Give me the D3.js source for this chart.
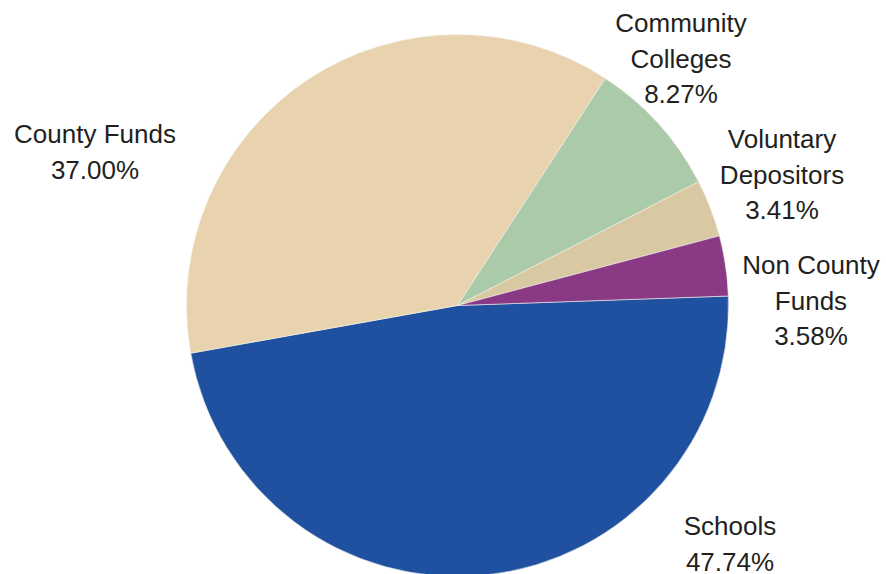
<!DOCTYPE html>
<html>
<head>
<meta charset="utf-8">
<script src="https://cdn.jsdelivr.net/npm/d3@7"></script>
<style>
  html, body { margin: 0; padding: 0; background: #fff; }
  svg { display: block; }
  .lbl { font-family: "Liberation Sans", Arial, sans-serif; font-size: 26px; fill: #231f20; }
</style>
</head>
<body>
<svg id="chart" width="886" height="574"></svg>
<script>
// Slice data, in drawing order (clockwise from the first slice)
const categories = ["Schools", "County Funds", "Community Colleges", "Voluntary Depositors", "Non County Funds"];
const shares = [47.74, 37.00, 8.27, 3.41, 3.58];
const labelLines = [
  ["Schools", "47.74%"],
  ["County Funds", "37.00%"],
  ["Community", "Colleges", "8.27%"],
  ["Voluntary", "Depositors", "3.41%"],
  ["Non County", "Funds", "3.58%"]
];
const colors = ["#2050a0", "#e8d3ae", "#aacaaa", "#d8c9a3", "#8a3a84"];

// Label anchors (Excel "best fit" placement), centre x / first baseline y
const labelAt = [
  [730, 535],
  [95, 143],
  [681, 32],
  [782, 148],
  [811, 274]
];

const W = 886, H = 574;
const cx = 457.5, cy = 305.5, R = 271;
const startDeg = 88;

const svg = d3.select("#chart");
const root = svg.append("g").attr("transform", `translate(${cx},${cy})`);

const pie = d3.pie().sort(null).value(d => d)
  .startAngle(startDeg * Math.PI / 180)
  .endAngle(startDeg * Math.PI / 180 + 2 * Math.PI);
const arc = d3.arc().innerRadius(0).outerRadius(R);

root.selectAll("path.slice").data(pie(shares)).enter().append("path")
  .attr("class", "slice")
  .attr("d", arc)
  .attr("fill", (d, i) => colors[i])
  .attr("stroke", "#f4f1ea").attr("stroke-width", 0.6);

// Labels
const lineH = 35.5;
const g = svg.append("g");
labelLines.forEach((lines, i) => {
  const t = g.append("text").attr("class", "lbl").attr("text-anchor", "middle");
  lines.forEach((s, j) => {
    t.append("tspan").attr("x", labelAt[i][0]).attr("y", labelAt[i][1] + j * lineH).text(s);
  });
});
</script>
</body>
</html>
